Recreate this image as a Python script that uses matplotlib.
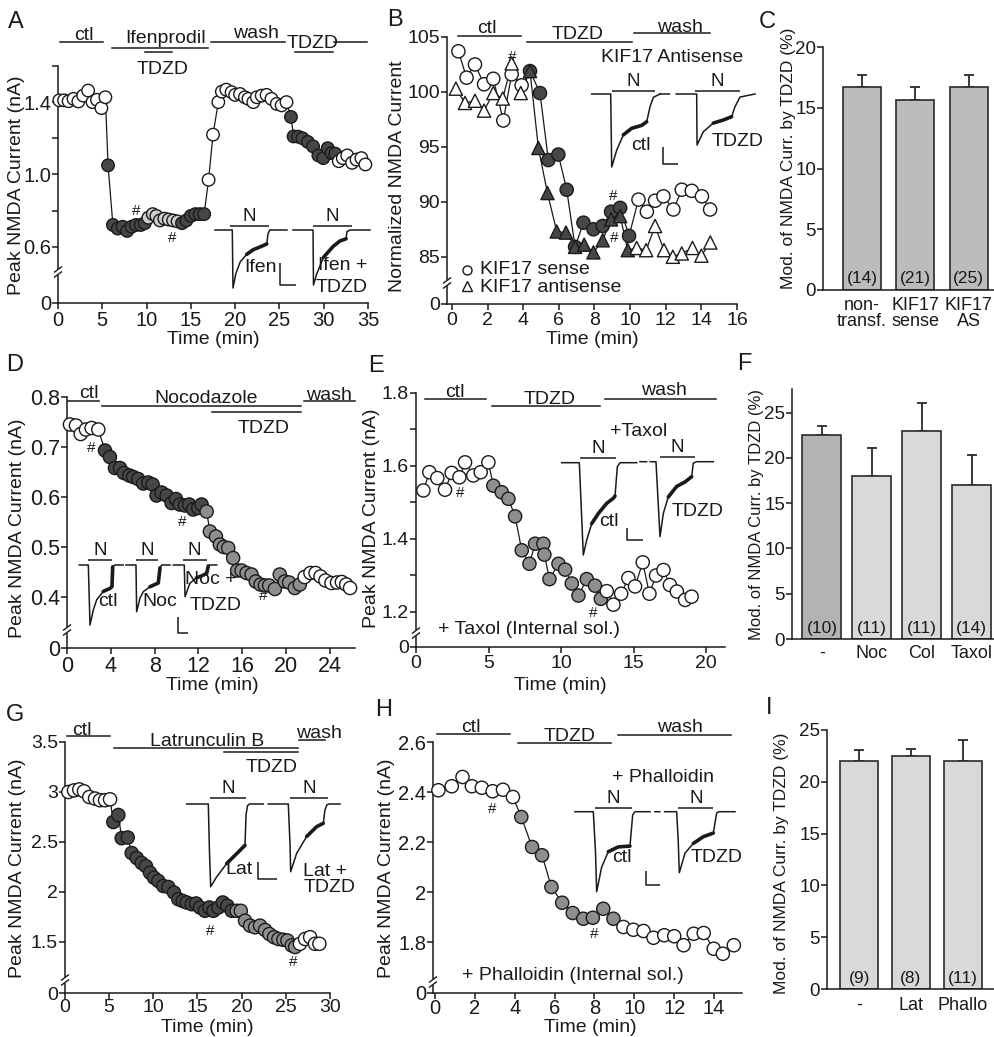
import numpy as np
import matplotlib
matplotlib.use("Agg")
import matplotlib.pyplot as plt
from matplotlib.transforms import Affine2D, blended_transform_factory
from matplotlib.lines import Line2D

# ======================= DATA =======================
# Panel A  (Ifenprodil)
A_t = [0.15, 0.68, 1.2, 1.75, 2.3, 2.85, 3.4, 3.9, 4.4, 4.9, 5.35,
       5.65, 6.2, 6.75, 7.3, 7.8, 8.3, 8.8, 9.35, 9.8,
       10.2, 10.7, 11.1, 11.5, 12.0, 12.5, 13.0, 13.5,
       14.0, 14.5, 15.0, 15.5, 16.0, 16.5,
       17.0, 17.5, 18.1, 18.5, 19.0, 19.6, 20.0, 20.55, 21.1, 21.5, 22.05, 22.45,
       23.0, 23.55, 24.1, 24.7, 25.25, 25.8,
       26.3, 26.6, 27.1, 27.6, 28.2, 28.8, 29.4, 29.95, 30.45, 30.9, 31.3,
       31.7, 32.15, 32.65, 33.2, 33.7, 34.25, 34.7]
A_v = [1.41, 1.41, 1.405, 1.418, 1.404, 1.436, 1.464, 1.40, 1.413, 1.367, 1.427,
       1.05, 0.72, 0.70, 0.71, 0.687, 0.71, 0.72, 0.72, 0.73,
       0.76, 0.78, 0.77, 0.745, 0.755, 0.75, 0.745, 0.74,
       0.73, 0.745, 0.77, 0.78, 0.78, 0.78,
       0.97, 1.22, 1.40, 1.458, 1.469, 1.455, 1.44, 1.445, 1.427, 1.418, 1.40, 1.427,
       1.436, 1.44, 1.418, 1.39, 1.382, 1.40,
       1.318, 1.21, 1.209, 1.20, 1.18, 1.155, 1.105, 1.09, 1.145, 1.118, 1.115,
       1.073, 1.09, 1.105, 1.064, 1.082, 1.09, 1.055]
A_phase = "o" * 11 + "d" * 9 + "l" * 8 + "d" * 6 + "o" * 18 + "d" * 11 + "o" * 7
A_hash = [(8.88, 0.80), (12.84, 0.65)]

# Panel B  (KIF17 sense / antisense, normalized)
B_t_sense = [0.36, 0.82, 1.29, 1.8, 2.32, 2.88, 3.35, 3.91,
             4.38, 4.94, 5.41, 5.97, 6.44, 6.91, 7.38, 7.94, 8.46, 8.93, 9.44, 9.94,
             10.47, 10.94, 11.4, 11.87, 12.43, 12.9, 13.46, 14.03, 14.49]
B_v_sense = [103.7, 101.3, 102.5, 100.7, 101.2, 97.4, 101.6, 100.6,
             101.9, 99.9, 93.8, 94.3, 91.1, 85.9, 88.1, 87.5, 87.8, 89.1, 89.45, 86.9,
             90.2, 89.1, 90.1, 90.5, 89.3, 91.1, 91.0, 90.5, 89.3]
B_phase_sense = "o" * 8 + "d" * 12 + "o" * 9
B_t_anti = [0.22, 0.73, 1.29, 1.8, 2.32, 2.85, 3.35, 3.86,
            4.38, 4.85, 5.36, 5.88, 6.4, 6.91, 7.42, 7.94, 8.46, 8.93, 9.44, 9.87,
            10.37, 10.9, 11.4, 11.9, 12.4, 12.9, 13.5, 14.0, 14.5]
B_v_anti = [100.3, 99.0, 99.2, 98.3, 99.9, 99.4, 102.6, 99.9,
            101.9, 94.9, 90.8, 87.3, 87.2, 85.9, 86.1, 85.4, 86.5, 88.4, 88.7, 85.6,
            85.8, 85.6, 87.8, 85.6, 85.0, 85.3, 85.8, 85.1, 86.3]
B_phase_anti = "o" * 8 + "d" * 12 + "o" * 9
B_hash = [(3.4, 103.2), (9.05, 90.5), (9.1, 86.7)]

# Panel C
C_labels = ["non-\ntransf.", "KIF17\nsense", "KIF17\nAS"]
C_vals = [16.7, 15.6, 16.7]
C_errs = [1.0, 1.1, 1.0]
C_n = ["(14)", "(21)", "(25)"]

# Panel D  (Nocodazole)
D_t = [0.27, 0.82, 1.25, 1.73, 2.25, 2.86,
       3.47, 3.92, 4.38, 4.84, 5.2, 5.69, 6.05, 6.5, 6.96, 7.42, 7.82, 8.18, 8.64, 9.1,
       9.55, 9.95, 10.3, 10.77, 11.16, 11.52, 11.98, 12.29,
       12.75, 13.05, 13.6, 13.96, 14.32, 14.72, 15.17, 15.54, 15.94, 16.4, 16.85, 17.24,
       17.67, 18.07, 18.46, 18.98, 19.43, 19.89, 20.28, 20.8, 21.26,
       21.7, 22.23, 22.7, 23.15, 23.6, 24.15, 24.66, 25.1, 25.5, 25.85]
D_v = [0.745, 0.743, 0.726, 0.735, 0.738, 0.735,
       0.693, 0.68, 0.658, 0.658, 0.648, 0.643, 0.64, 0.636, 0.627, 0.629, 0.625, 0.603, 0.609, 0.603,
       0.588, 0.596, 0.585, 0.583, 0.585, 0.575, 0.578, 0.585,
       0.571, 0.531, 0.521, 0.505, 0.50, 0.498, 0.478, 0.453, 0.453, 0.448, 0.445, 0.431,
       0.425, 0.423, 0.423, 0.416, 0.445, 0.431, 0.429, 0.418, 0.425,
       0.44, 0.448, 0.448, 0.441, 0.433, 0.428, 0.429, 0.43, 0.425, 0.418]
D_phase = "o" * 6 + "d" * 22 + "g" * 21 + "o" * 10
D_hash = [(2.25, 0.698), (10.55, 0.551), (17.9, 0.401)]

# Panel E  (Taxol)
E_t = [0.51, 0.92, 1.47, 2.0, 2.46, 2.99, 3.38, 3.95, 4.46, 4.99,
       5.33, 5.91, 6.37, 6.83, 7.29, 7.82, 8.21, 8.78, 8.85, 9.2, 9.82, 10.28, 10.74,
       11.2, 11.77, 12.34, 12.74,
       13.15, 13.61, 14.14, 14.64, 15.1, 15.63, 16.09, 16.55, 17.06, 17.5, 17.98, 18.55, 19.0]
E_v = [1.533, 1.583, 1.567, 1.535, 1.581, 1.569, 1.61, 1.574, 1.583, 1.61,
       1.546, 1.528, 1.51, 1.462, 1.369, 1.332, 1.387, 1.387, 1.357, 1.29, 1.332, 1.316, 1.278,
       1.245, 1.29, 1.272, 1.236,
       1.257, 1.22, 1.25, 1.293, 1.27, 1.336, 1.25, 1.30, 1.315, 1.274, 1.256, 1.233, 1.242]
E_phase = "o" * 10 + "g" * 17 + "o" * 13
E_hash = [(3.08, 1.527), (12.2, 1.198)]

# Panel F
F_labels = ["-", "Noc", "Col", "Taxol"]
F_vals = [22.5, 18.0, 23.0, 17.0]
F_errs = [1.0, 3.1, 3.0, 3.3]
F_n = ["(10)", "(11)", "(11)", "(14)"]

# Panel G  (Latrunculin B)
G_t = [0.38, 1.02, 1.62, 2.15, 2.75, 3.4, 3.96, 4.53, 5.1,
       5.47, 6.04, 6.42, 7.1, 7.55, 8.12, 8.68, 9.17, 9.63, 10.08, 10.57, 11.13, 11.7,
       12.34, 12.83, 13.33, 13.78, 14.35, 14.84, 15.29, 15.85, 16.34, 16.8, 17.36, 17.86,
       18.38, 18.88,
       19.44, 19.9, 20.38, 20.95, 21.52, 22.08, 22.65, 23.14, 23.67, 24.16, 24.72, 25.18,
       25.67, 26.05,
       26.6, 27.18, 27.75, 28.3, 28.8]
G_v = [3.0, 3.016, 3.026, 3.007, 2.95, 2.934, 2.918, 2.918, 2.927,
       2.70, 2.77, 2.538, 2.545, 2.39, 2.34, 2.29, 2.258, 2.192, 2.143, 2.11, 2.06, 2.05,
       1.994, 1.928, 1.91, 1.895, 1.878, 1.885, 1.845, 1.812, 1.845, 1.812, 1.845, 1.895,
       1.862, 1.812,
       1.812, 1.812, 1.713, 1.664, 1.647, 1.664, 1.62, 1.58, 1.548, 1.53, 1.522, 1.515,
       1.466, 1.45,
       1.482, 1.53, 1.548, 1.482, 1.482]
G_phase = "o" * 9 + "d" * 27 + "g" * 14 + "o" * 5
G_hash = [(16.4, 1.61), (25.85, 1.30)]

# Panel H  (Phalloidin)
H_t = [0.17, 0.84, 1.38, 1.85, 2.35, 2.89, 3.41, 3.91,
       4.33, 4.87, 5.37, 5.84, 6.38, 6.91, 7.44, 7.92, 8.44, 8.95,
       9.45, 9.95, 10.46, 10.96, 11.5, 12.0, 12.47, 12.98, 13.48, 13.98, 14.44, 14.99]
H_v = [2.407, 2.423, 2.46, 2.423, 2.417, 2.403, 2.409, 2.38,
       2.30, 2.18, 2.147, 2.02, 1.957, 1.916, 1.893, 1.897, 1.933, 1.893,
       1.86, 1.849, 1.844, 1.817, 1.827, 1.823, 1.787, 1.833, 1.836, 1.773, 1.753, 1.787]
H_phase = "o" * 8 + "g" * 10 + "o" * 12
H_hash = [(2.85, 2.333), (7.97, 1.83)]

# Panel I
I_labels = ["-", "Lat", "Phallo"]
I_vals = [22.0, 22.5, 22.0]
I_errs = [1.05, 0.65, 2.05]
I_n = ["(9)", "(8)", "(11)"]

# Example current traces (normalized time 0-1, current 0 = baseline, -1 = peak)
nan = np.nan
TR_A1 = ([0, 0.24, 0.25, 0.29, 0.35, 0.44, 0.53, 0.63, 0.72, 0.735, 0.76, 1.0],
         [0, 0, -1.0, -0.75, -0.55, -0.42, -0.34, -0.29, -0.24, -0.07, 0, 0])
TR_A2 = ([0, 0.26, 0.266, 0.308, 0.394, 0.52, 0.61, 0.69, 0.70, 0.74, 1.0],
         [0, 0, -1.0, -0.8, -0.5, -0.3, -0.2, -0.16, -0.03, 0, 0])
TR_B1 = ([0, 0.278, 0.293, 0.366, 0.463, 0.585, 0.732, 0.805, 0.854, 0.903, 1.0],
         [0, 0, -1.0, -0.77, -0.56, -0.47, -0.43, -0.38, -0.175, -0.045, 0])
TR_B2 = ([0, 0.1, nan, 0.17, 0.386, 0.39, 0.456, 0.561, 0.667, 0.754, 0.789, 0.842, 1.0],
         [0, 0, nan, 0, 0, -1.0, -0.74, -0.57, -0.51, -0.445, -0.25, -0.06, 0])
TR_D1 = ([0, 0.205, 0.243, 0.318, 0.395, 0.545, 0.698, 0.743, 0.759, 0.81, 1.0],
         [0, 0, -1.0, -0.75, -0.58, -0.44, -0.39, -0.36, -0.03, 0, 0])
TR_D2 = ([0, 0.227, 0.242, 0.318, 0.394, 0.545, 0.734, 0.773, 0.81, 1.0],
         [0, 0, -1.0, -0.71, -0.57, -0.465, -0.385, -0.06, 0, 0])
TR_D3 = ([0, 0.253, 0.27, 0.38, 0.53, 0.69, 0.77, 0.806, 0.845, 1.0],
         [0, 0, -1.0, -0.58, -0.41, -0.32, -0.26, -0.03, 0, 0])
TR_E1 = ([0, 0.235, 0.288, 0.333, 0.4, 0.489, 0.6, 0.689, 0.711, 0.742, 0.778, 1.0],
         [0, 0, -1.0, -0.84, -0.66, -0.55, -0.44, -0.385, -0.36, -0.043, 0, 0])
TR_E2 = ([0, 0.09, nan, 0.14, 0.218, 0.273, 0.318, 0.386, 0.5, 0.614, 0.705, 0.727, 0.773, 1.0],
         [0, 0, nan, 0, 0, -1.0, -0.69, -0.47, -0.33, -0.27, -0.2, -0.02, 0, 0])
TR_G1 = ([0, 0.282, 0.298, 0.313, 0.392, 0.522, 0.653, 0.761, 0.775, 0.794, 0.82, 1.0],
         [0, 0, -0.6, -1.0, -0.88, -0.72, -0.6, -0.5, -0.13, -0.02, 0, 0])
TR_G2 = ([0, 0.279, 0.303, 0.312, 0.395, 0.535, 0.674, 0.767, 0.79, 0.818, 0.85, 1.0],
         [0, 0, -0.6, -1.0, -0.73, -0.48, -0.335, -0.285, -0.09, -0.01, 0, 0])
TR_H1 = ([0, 0.244, 0.273, 0.289, 0.356, 0.444, 0.577, 0.733, 0.769, 0.8, 1.0],
         [0, 0, -0.5, -1.0, -0.69, -0.5, -0.44, -0.43, -0.04, 0, 0])
TR_H2 = ([0, 0.06, nan, 0.12, 0.271, 0.291, 0.304, 0.375, 0.479, 0.604, 0.729, 0.771, 0.8, 1.0],
         [0, 0, nan, 0, 0, -0.5, -1.0, -0.68, -0.52, -0.41, -0.35, -0.02, 0, 0])

# ======================= FIGURE =======================
W, H = 995, 1037
plt.rcParams['font.family'] = ['Liberation Sans', 'DejaVu Sans']
plt.rcParams['axes.linewidth'] = 1.1
INK = '#1a1a1a'
fig = plt.figure(figsize=(W / 100, H / 100), dpi=100)
PX = Affine2D().scale(1, -1).translate(0, H)


def axes_px(l, t, r, b):
    return fig.add_axes([l / W, 1 - b / H, (r - l) / W, (b - t) / H])


def ftext(x, y, s, **kw):
    kw.setdefault('fontsize', 14)
    kw.setdefault('ha', 'center')
    kw.setdefault('va', 'center')
    kw.setdefault('color', INK)
    fig.text(x, y, s, transform=PX, **kw)


def fline(xs, ys, lw=1.1, color=INK):
    fig.add_artist(Line2D(xs, ys, transform=PX, lw=lw, color=color,
                          solid_capstyle='butt'))


FILL = {'o': 'white', 'd': '#474747', 'g': '#8e8e8e', 'l': '#cfcfcf'}


def style_axes(ax, fs=14.5, xpad=2):
    for s in ('top', 'right'):
        ax.spines[s].set_visible(False)
    for s in ('left', 'bottom'):
        ax.spines[s].set_color(INK)
    ax.tick_params(axis='both', direction='out', length=4, width=1.1,
                   colors=INK, labelsize=fs)
    ax.tick_params(axis='y', pad=1)
    ax.tick_params(axis='x', pad=xpad)


def timecourse(box, series, xlim, ylim, xticks, yticks, yticklabels, fs=14.5, xpad=2):
    ax = axes_px(*box)
    for t, v, ph, mk, ms in series:
        ax.plot(t, v, '-', color=INK, lw=0.9, zorder=2, clip_on=False)
        ax.scatter(t, v, s=ms ** 2, marker=mk, c=[FILL[c] for c in ph],
                   edgecolors=INK, linewidths=1.0, zorder=3, clip_on=False)
    ax.set_xlim(*xlim)
    ax.set_ylim(*ylim)
    ax.set_xticks(xticks)
    ax.set_yticks(yticks)
    ax.set_yticklabels(yticklabels)
    style_axes(ax, fs, xpad)
    return ax


def hashes(ax, pts):
    for x, y in pts:
        ax.text(x, y, '#', fontsize=11, ha='center', va='center', color=INK, zorder=4)


def axis_break(x, y):
    fline([x, x], [y - 3, y + 3], lw=3, color='white')
    for d in (-2.5, 2.5):
        fline([x - 4, x + 4], [y + 3 + d, y - 3 + d], lw=1.0)


def treat_bars(ax, items):
    tr = blended_transform_factory(ax.transData, PX)
    for x0, x1, y, lab, ly, lx in items:
        ax.add_artist(Line2D([x0, x1], [y, y], transform=tr, lw=1.1, color=INK,
                             clip_on=False))
        if lab:
            cx = (x0 + x1) / 2 if lx is None else lx
            ax.text(cx, ly, lab, transform=tr, fontsize=14, ha='center',
                    va='baseline', color=INK, clip_on=False)


def trace(box, tr, thick, nbar):
    x0, x1, yb, yp = box
    ax = axes_px(x0, yb, x1, yp)
    ax.set_xlim(0, 1)
    ax.set_ylim(-1, 0)
    ax.axis('off')
    t = np.array(tr[0], float)
    i = np.array(tr[1], float)
    ax.plot(t, i, color=INK, lw=1.1, clip_on=False)
    a, b = thick
    ax.plot(t[a:b + 1], i[a:b + 1], color=INK, lw=2.6, clip_on=False,
            solid_capstyle='round')
    n0, n1, ny = nbar
    p0 = x0 + n0 * (x1 - x0)
    p1 = x0 + n1 * (x1 - x0)
    fline([p0, p1], [ny, ny])
    ftext((p0 + p1) / 2, ny - 1, 'N', va='bottom', fontsize=13.5)


def scalebar(x, y0, y1, x1):
    fline([x, x, x1], [y0, y1, y1], lw=1.1)


def barchart(box, labels, vals, errs, ns, colors, xlim, ylim, yticks, width,
             lab_top, n_fs=12.5, lab_fs=13):
    ax = axes_px(*box)
    x = np.arange(len(vals))
    ax.bar(x, vals, width=width, color=colors, edgecolor='#2a2a2a', linewidth=1.2,
           zorder=2)
    ax.errorbar(x, vals, yerr=[np.zeros(len(vals)), errs], fmt='none',
                ecolor='#2a2a2a', elinewidth=1.3, capsize=3.5, capthick=1.3, zorder=1)
    ax.set_xlim(*xlim)
    ax.set_ylim(*ylim)
    ax.set_yticks(yticks)
    ax.set_xticks([])
    style_axes(ax, 13.5)
    tr = blended_transform_factory(ax.transData, PX)
    ybot = box[3]
    for k in range(len(vals)):
        ax.text(x[k], ybot - 11, ns[k], transform=tr, fontsize=n_fs, ha='center',
                va='center', color=INK)
        ax.text(x[k], lab_top, labels[k], transform=tr, fontsize=lab_fs, ha='center',
                va='top', color=INK, linespacing=0.95, clip_on=False)
    return ax


# ---------------- Panel A ----------------
axA = timecourse((58, 66, 368, 303), [(A_t, A_v, A_phase, 'o', 9)],
                 (0, 35), (0.288, 1.6), range(0, 36, 5),
                 [0.288, 0.6, 0.8, 1.0, 1.2, 1.4, 1.6],
                 ['0', '0.6', '', '1.0', '', '1.4', ''])
hashes(axA, A_hash)
treat_bars(axA, [(0.23, 5.1, 42, 'ctl', 40.5, 2.9),
                 (6.1, 16.9, 47.7, 'Ifenprodil', 43, 12.1),
                 (9.8, 12.9, 52.3, 'TDZD', 74.5, 11.85),
                 (17.3, 25.6, 42.3, 'wash', 38, 22.4),
                 (26.8, 31.0, 51.5, 'TDZD', 47.5, 28.7),
                 (31.2, 34.9, 42, '', 0, None)])
axis_break(58, 272)
trace((215, 287, 230, 288), TR_A1, (5, 8), (0.21, 0.755, 226))
trace((293, 370, 230, 285), TR_A2, (4, 7), (0.264, 0.76, 226))
ftext(260, 267, 'Ifen')
ftext(318, 266, 'Ifen +', ha='left')
ftext(316, 287, 'TDZD', ha='left')
scalebar(280, 263, 285, 296)
ftext(17, 185, 'Peak NMDA Current (nA)', rotation=90)
ftext(213, 340, 'Time (min)')
ftext(15.5, 22.5, 'A', fontsize=17)

# ---------------- Panel B ----------------
axB = timecourse((447, 37, 737, 304),
                 [(B_t_sense, B_v_sense, B_phase_sense, 'o', 9.5),
                  (B_t_anti, B_v_anti, B_phase_anti, '^', 9.5)],
                 (-0.28, 16), (80.7, 105), range(0, 17, 2),
                 [80.7, 85, 90, 95, 100, 105], ['0', '85', '90', '95', '100', '105'],
                 fs=14)
hashes(axB, B_hash)
treat_bars(axB, [(0.36, 3.9, 36, 'ctl', 33.3, 1.95),
                 (4.2, 10.1, 41.7, 'TDZD', 39.3, 7.07),
                 (10.2, 14.5, 33.3, 'wash', 31.7, 12.8)])
axis_break(447, 283)
trace((591.7, 660, 94, 167), TR_B1, (4, 7), (0.293, 0.927, 90.7))
trace((660, 755, 94, 145), TR_B2, (7, 9), (0.368, 0.842, 90.7))
ftext(641, 146, 'ctl')
ftext(738, 141, 'TDZD')
scalebar(663, 147, 164, 678)
ftext(601, 58, 'KIF17 Antisense', ha='left')
fig.add_artist(Line2D([467], [270], transform=PX, marker='o', ms=6.5, mfc='white',
                      mec=INK, mew=1.0, linestyle='none'))
fig.add_artist(Line2D([467], [286], transform=PX, marker='^', ms=6.5, mfc='white',
                      mec=INK, mew=1.0, linestyle='none'))
ftext(480, 270, 'KIF17 sense', ha='left')
ftext(480, 287, 'KIF17 antisense', ha='left')
ftext(398, 176, 'Normalized NMDA Current', rotation=90)
ftext(592, 340, 'Time (min)')
ftext(395, 20.5, 'B', fontsize=17)

# ---------------- Panel C ----------------
barchart((823, 47, 995, 290), C_labels, C_vals, C_errs, C_n,
         ['#bcbcbc'] * 3, (-0.73, 2.49), (0, 20), [0, 5, 10, 15, 20], 0.71, 297)
ftext(788, 158, 'Mod. of NMDA Curr. by TDZD (%)', rotation=90, fontsize=12.5)
ftext(767.5, 22.5, 'C', fontsize=17)

# ---------------- Panel D ----------------
axD = timecourse((67, 397, 355, 648), [(D_t, D_v, D_phase, 'o', 9.5)],
                 (0, 26.3), (0.298, 0.8), range(0, 25, 4),
                 [0.298, 0.4, 0.5, 0.6, 0.7, 0.8],
                 ['0', '0.4', '0.5', '0.6', '0.7', '0.8'], fs=15.5)
hashes(axD, D_hash)
treat_bars(axD, [(0.1, 2.9, 400.7, 'ctl', 398.3, 2.0),
                 (3.16, 21.4, 405.7, 'Nocodazole', 403.3, 12.7),
                 (13.2, 21.4, 411.7, 'TDZD', 433.3, 18.0),
                 (21.6, 26.3, 401, 'wash', 400, 23.9)])
axis_break(67, 630)
trace((79.3, 123.3, 565, 625), TR_D1, (5, 8), (0.205, 0.736, 560))
trace((126, 170, 565, 611.7), TR_D2, (5, 7), (0.227, 0.734, 560))
trace((173.3, 216.7, 565, 596.7), TR_D3, (4, 7), (0.217, 0.77, 560))
ftext(108, 601, 'ctl')
ftext(160, 601, 'Noc')
ftext(211, 580, 'Noc +')
ftext(216, 605, 'TDZD')
scalebar(178, 617, 633, 188)
ftext(18, 528, 'Peak NMDA Current (nA)', rotation=90)
ftext(212, 686, 'Time (min)')
ftext(15, 365, 'D', fontsize=17)

# ---------------- Panel E ----------------
axE = timecourse((416, 393, 725, 647), [(E_t, E_v, E_phase, 'o', 9.5)],
                 (0, 21.3), (1.104, 1.8), range(0, 21, 5),
                 [1.104, 1.2, 1.3, 1.4, 1.5, 1.6, 1.7, 1.8],
                 ['0', '1.2', '', '1.4', '', '1.6', '', '1.8'], fs=14)
hashes(axE, E_hash)
treat_bars(axE, [(0.6, 4.85, 398.7, 'ctl', 396.7, 2.7),
                 (5.26, 12.7, 406, 'TDZD', 404, 9.24),
                 (13.0, 20.7, 399.3, 'wash', 395, 17.1)])
axis_break(416, 633)
trace((561.7, 636.7, 462.7, 555), TR_E1, (4, 8), (0.244, 0.724, 458))
trace((640, 713.3, 461.7, 536.7), TR_E2, (7, 10), (0.273, 0.75, 457))
ftext(609, 522, 'ctl')
ftext(698, 512, 'TDZD')
ftext(639, 431, '+Taxol')
scalebar(626.7, 528, 540, 643.3)
ftext(438, 629, '+ Taxol (Internal sol.)', ha='left')
ftext(371, 518, 'Peak NMDA Current (nA)', rotation=90)
ftext(560, 686, 'Time (min)')
ftext(375.5, 365.5, 'E', fontsize=17)

# ---------------- Panel F ----------------
barchart((792, 389, 995, 639), F_labels, F_vals, F_errs, F_n,
         ['#b3b3b3', '#d9d9d9', '#d9d9d9', '#d9d9d9'], (-0.6, 3.47), (0, 27.6),
         [0, 5, 10, 15, 20, 25], 0.78, 645)
ftext(757, 515, 'Mod. of NMDA Curr. by TDZD (%)', rotation=90, fontsize=12)
ftext(744, 364, 'F', fontsize=17)

# ---------------- Panel G ----------------
axG = timecourse((65, 742, 330, 993), [(G_t, G_v, G_phase, 'o', 9.5)],
                 (0, 30), (0.99, 3.5), range(0, 31, 5),
                 [0.99, 1.5, 2, 2.5, 3, 3.5], ['0', '1.5', '2', '2.5', '3', '3.5'],
                 fs=14, xpad=0.3)
hashes(axG, G_hash)
treat_bars(axG, [(0.19, 5.1, 736, 'ctl', 735, 1.9),
                 (5.55, 26.4, 747.7, 'Latrunculin B', 745.5, 16.1),
                 (18.0, 26.4, 752, 'TDZD', 771.7, 23.4),
                 (26.5, 29.4, 740, 'wash', 738, 28.8)])
axis_break(65, 980)
trace((186.7, 263.3, 804, 886.7), TR_G1, (5, 7), (0.304, 0.774, 798))
trace((268.3, 340, 804, 871.7), TR_G2, (5, 7), (0.303, 0.83, 798))
ftext(239, 870, 'Lat')
ftext(303, 872, 'Lat +', ha='left')
ftext(304, 888, 'TDZD', ha='left')
scalebar(258, 862, 879, 277)
ftext(17.5, 868, 'Peak NMDA Current (nA)', rotation=90)
ftext(207, 1027, 'Time (min)')
ftext(15, 715, 'G', fontsize=17)

# ---------------- Panel H ----------------
axH = timecourse((433, 742, 742, 993), [(H_t, H_v, H_phase, 'o', 9.5)],
                 (-0.1, 15.4), (1.596, 2.6), range(0, 15, 2),
                 [1.596, 1.8, 2.0, 2.2, 2.4, 2.6], ['0', '1.8', '2', '2.2', '2.4', '2.6'],
                 xpad=0.3)
hashes(axH, H_hash)
treat_bars(axH, [(0.12, 3.78, 734.3, 'ctl', 732.5, 1.8),
                 (4.15, 8.84, 743.3, 'TDZD', 741, 6.76),
                 (9.18, 14.85, 735, 'wash', 732.5, 12.3)])
axis_break(433, 982)
trace((575, 650, 811.7, 891.7), TR_H1, (5, 7), (0.267, 0.756, 807.7))
trace((655, 735, 811.7, 872.7), TR_H2, (8, 10), (0.291, 0.729, 807.7))
ftext(622, 858, 'ctl')
ftext(717, 858, 'TDZD')
ftext(611.7, 778, '+ Phalloidin', ha='left')
scalebar(646, 871, 885, 660)
ftext(461.7, 975, '+ Phalloidin (Internal sol.)', ha='left')
ftext(386.5, 868, 'Peak NMDA Current (nA)', rotation=90)
ftext(590, 1027, 'Time (min)')
ftext(383.5, 709.5, 'H', fontsize=17)

# ---------------- Panel I ----------------
barchart((827, 730, 995, 989), I_labels, I_vals, I_errs, I_n,
         ['#d9d9d9'] * 3, (-0.62, 2.62), (0, 25), [0, 5, 10, 15, 20, 25], 0.74, 997)
ftext(781.5, 863, 'Mod. of NMDA Curr. by TDZD (%)', rotation=90, fontsize=12.5)
ftext(769.5, 708.5, 'I', fontsize=17)

fig.savefig('out.png', dpi=100, facecolor='white')
